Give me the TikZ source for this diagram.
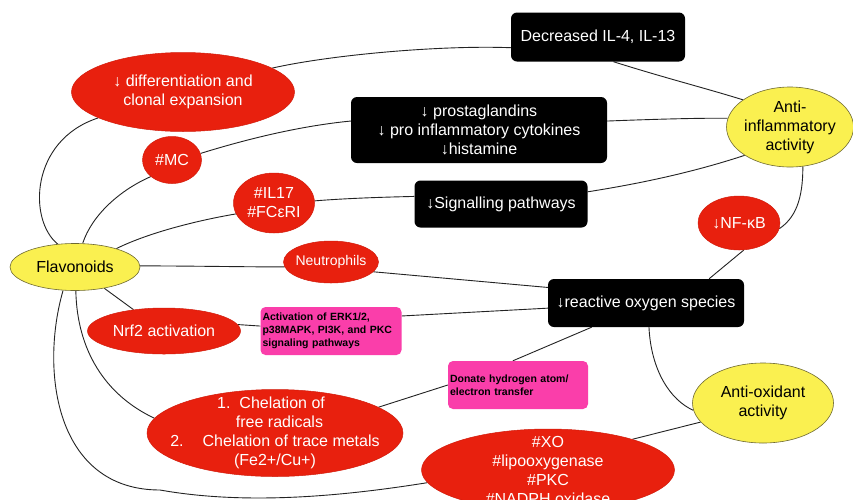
\documentclass[tikz,border=0pt]{standalone}
\usepackage{fontspec}
\setmainfont{Liberation Sans}
\usetikzlibrary{shapes.geometric,backgrounds}
\definecolor{fred}{RGB}{232,32,14}
\definecolor{fredb}{RGB}{210,28,12}
\definecolor{fyel}{RGB}{250,240,80}
\definecolor{fyelb}{RGB}{110,105,50}
\definecolor{fmag}{RGB}{250,62,170}
\definecolor{flink}{RGB}{35,35,35}
\tikzset{
 base/.style={font=\fontsize{16}{19}\selectfont, align=center, inner sep=0pt},
 redell/.style={base, ellipse, fill=fred, draw=fredb, line width=0.5pt, text=white},
 yelell/.style={base, ellipse, fill=fyel, draw=fyelb, line width=0.6pt, text=black},
 blkbox/.style={base, rectangle, rounded corners=6pt, fill=black, text=white},
 magbox/.style={rectangle, rounded corners=5pt, fill=fmag, text=black,
   font=\bfseries\fontsize{10.5}{13}\selectfont, align=left, inner xsep=2pt, inner ysep=0pt},
 wlabel/.style={base, text=white},
 klabel/.style={base, text=black},
 link/.style={draw=flink, line width=0.9pt},
}
\begin{document}
\begin{tikzpicture}[x=1pt,y=-1pt]
\useasboundingbox (0,0) rectangle (853,499);
% nodes
\node[yelell, minimum width=130, minimum height=47] (fl) at (75,267) {Flavonoids};
\node[redell, minimum width=223, minimum height=79] (diff) at (183,92) {↓ differentiation and\\clonal expansion};
\node[redell, minimum width=59, minimum height=47] (mc) at (172,160) {\#MC};
\node[redell, minimum width=81, minimum height=60] (il) at (274,203) {\#IL17\\\#FCεRI};
\node[redell, minimum width=95, minimum height=42] (neu) at (331,262) {};
\node[wlabel, font=\fontsize{14}{17}\selectfont] (neut) at (neu.center) {Neutrophils};
\node[redell, minimum width=153, minimum height=46] (nrf) at (164,331) {Nrf2 activation};
\node[magbox, minimum width=141, minimum height=48, text width=137] (erk) at (331,331)
  {Activation of ERK1/2,\\p38MAPK, PI3K, and PKC\\signaling pathways};
\node[redell, minimum width=256, minimum height=87] (chel) at (275,433) {};
\node[wlabel] (chelt) at (chel.center)
  {1.\hspace{9pt}Chelation of\hspace*{8pt}\\\hspace*{9pt}free radicals\\2.\hspace{19pt}Chelation of trace metals\hspace*{17pt}\\(Fe2+/Cu+)};
\node[redell, minimum width=253, minimum height=82] (xo) at (548,470) {};
\node[wlabel] (xot) at (xo.center) {\#XO\\\#lipooxygenase\\\#PKC\\\#NADPH oxidase};
\node[magbox, minimum width=140, minimum height=48, text width=136] (don) at (518,385)
  {Donate hydrogen atom/\\electron transfer};
\node[blkbox, minimum width=196, minimum height=48] (ros) at (646,303) {↓reactive oxygen species};
\node[yelell, minimum width=141, minimum height=80] (aox) at (763,403) {Anti-oxidant\\activity};
\node[redell, minimum width=82, minimum height=54] (nfkb) at (739,223) {↓NF-κB};
\node[yelell, minimum width=127, minimum height=80] (ainf) at (790,127) {};
\node[klabel] (ainft) at (ainf.center) {Anti-\\inflammatory\\activity};
\node[blkbox, minimum width=174, minimum height=49] (dec) at (598,37) {Decreased IL-4, IL-13};
\node[blkbox, minimum width=256, minimum height=66] (pro) at (479,130)
  {↓ prostaglandins\\↓ pro inflammatory cytokines\\↓histamine};
\node[blkbox, minimum width=173, minimum height=47] (sig) at (501,204) {↓Signalling pathways};
% connectors
\begin{pgfonlayer}{background}
\fill[white] (0,0) rectangle (853,499);
\draw[link] (fl.127) .. controls (28,220) and (30,140) .. (diff.197);
\draw[link] (diff.15) .. controls (330,55) and (440,45) .. (dec.187);
\draw[link] (dec.-58) .. controls (665,78) and (705,88) .. (ainf.150);
\draw[link] (fl.72) .. controls (92,215) and (120,190) .. (mc.218);
\draw[link] (mc.13) .. controls (260,135) and (310,125) .. (pro.176);
\draw[link] (pro.4) .. controls (660,119) and (700,118) .. (ainf.172);
\draw[link] (fl.24) .. controls (150,232) and (200,220) .. (il.196);
\draw[link] (il.3) .. controls (350,198) and (390,197) .. (sig.175);
\draw[link] (sig.8) .. controls (650,182) and (700,170) .. (ainf.212);
\draw[link] (ainf.-72) .. controls (803,200) and (795,218) .. (nfkb.-8);
\draw[link] (nfkb.-80) -- (ros.21);
\draw[link] (fl.1) .. controls (200,266) and (250,267) .. (neu.186);
\draw[link] (neu.-13) -- (ros.171);
\draw[link] (fl.-36) -- (nrf.145);
\draw[link] (nrf.5) -- (erk.176);
\draw[link] (erk.12) -- (ros.183);
\draw[link] (fl.-88) .. controls (77,350) and (105,395) .. (chel.173);
\draw[link] (chel.14) -- (don.180);
\draw[link] (don.102) -- (ros.204);
\draw[link] (ros.-83) .. controls (651,370) and (670,400) .. (aox.186);
\draw[link] (aox.197) -- (xo.20);
\draw[link] (fl.243) .. controls (40,370) and (55,490) .. (160,490)
  .. controls (250,506) and (350,495) .. (xo.186);
\end{pgfonlayer}
\end{tikzpicture}
\end{document}
